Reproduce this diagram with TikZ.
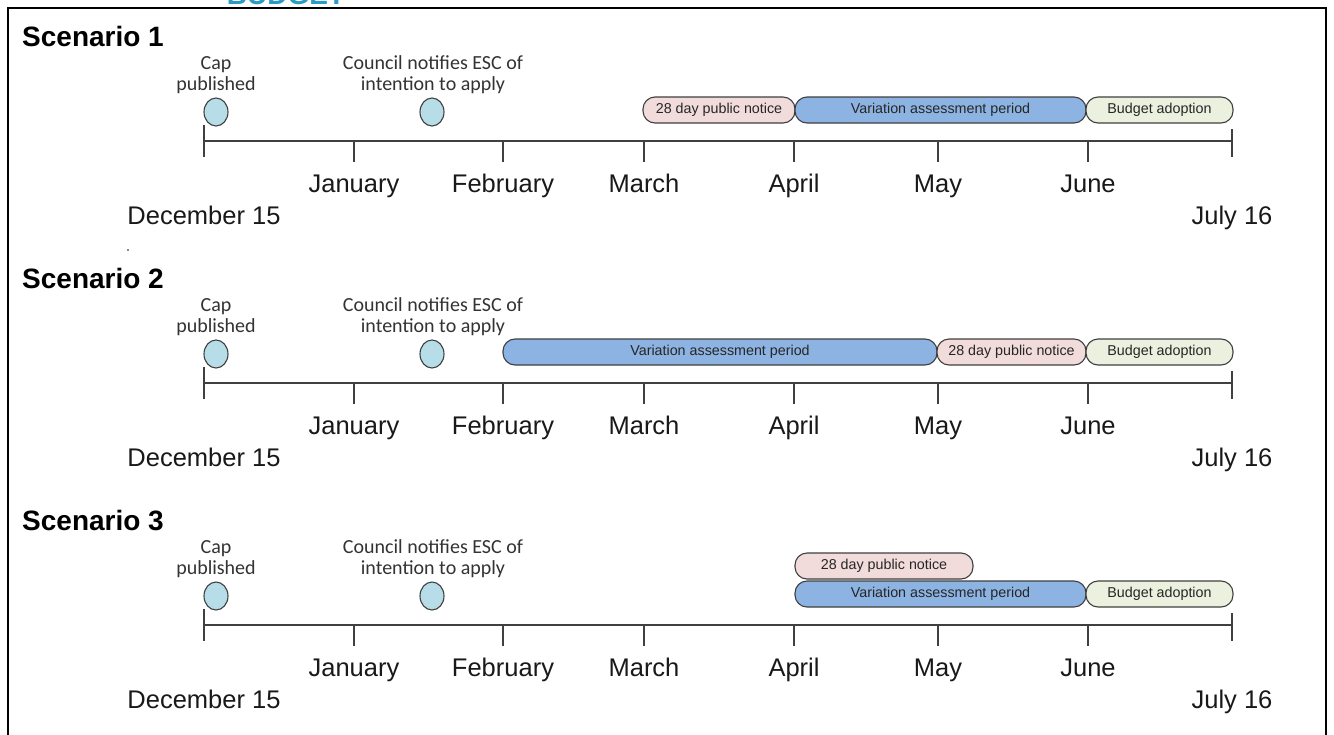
\documentclass[tikz,border=0pt]{standalone}
\usepackage{fontspec}
\setmainfont{Liberation Sans}
\newfontfamily\calib{Carlito}
\usetikzlibrary{shapes.geometric}
\definecolor{capfill}{HTML}{B7DDE8}
\definecolor{pinkfill}{HTML}{F2DCDB}
\definecolor{bluefill}{HTML}{8DB3E2}
\definecolor{greenfill}{HTML}{EBF1DE}
\definecolor{darkline}{HTML}{3F3F3F}
\definecolor{hdrblue}{HTML}{2B9BC4}
\begin{document}
\begin{tikzpicture}[x=1pt,y=-1pt,
  lbl/.style={font=\fontsize{25.5}{28}\selectfont, inner sep=0, anchor=base, text=black!90},
  ttl/.style={font=\bfseries\fontsize{28}{32}\selectfont, inner sep=0, anchor=base west},
  evt/.style={font=\calib\fontsize{20}{21.5}\selectfont, align=center, inner sep=0, anchor=south, text=black!80},
  dotnode/.style={ellipse, draw=darkline, fill=capfill, minimum width=24, minimum height=28, inner sep=0, line width=1.1},
  period/.style={rectangle, rounded corners=12, draw=darkline, line width=1.1, minimum height=26, inner sep=0, font=\fontsize{14.3}{16}\selectfont, text=black!85},
  axisline/.style={draw=black!75, line width=1.1}]
\useasboundingbox (0,0) rectangle (1334,734);
\fill[white] (0,0) rectangle (1334,734);
% header fragment and frame
\node[font=\bfseries\fontsize{28}{30}\selectfont, text=hdrblue, anchor=base, inner sep=0] (hdr) at (286,4) {BUDGET};
\draw[line width=2.6] (8,745) -- (8,8) -- (1326,8) -- (1326,745);
\fill[black!60] (128,250) circle (1.1);
% common parts of the three scenarios
\foreach \s/\o in {1/0,2/242,3/484}{
  \node[ttl] (t\s) at (22,46+\o) {Scenario \s};
  \node[evt] (capt\s) at (216,94+\o) {Cap\\published};
  \node[dotnode] (cap\s) at (216,112+\o) {};
  \node[evt] (esct\s) at (433,94+\o) {Council notifies ESC of\\intention to apply};
  \node[dotnode] (esc\s) at (432,112+\o) {};
  \coordinate (a\s0) at (204,141+\o);
  \coordinate (a\s7) at (1232,141+\o);
  \draw[axisline] (a\s0) -- (a\s7);
  \draw[axisline] ([yshift=16]a\s0) -- ([yshift=-16]a\s0);
  \draw[axisline] ([yshift=12]a\s7) -- ([yshift=-16]a\s7);
  \foreach \m/\x/\n in {1/354/January,2/503/February,3/644/March,4/794/April,5/938/May,6/1088/June}{
    \coordinate (a\s\m) at (\x,141+\o);
    \draw[axisline] (a\s\m) -- ([yshift=-21]a\s\m);
    \node[lbl] (m\s\m) at (\x,192+\o) {\n};
  }
  \node[lbl] (dec\s) at (204,224+\o) {December 15};
  \node[lbl] (jul\s) at (1232,224+\o) {July 16};
}
% Scenario 1 periods
\node[period, fill=pinkfill, minimum width=152] (p1a) at (719,110) {28 day public notice};
\node[period, fill=bluefill, minimum width=291] (p1b) at (940.5,110) {Variation assessment period};
\node[period, fill=greenfill, minimum width=147] (p1c) at (1159.5,110) {Budget adoption};
% Scenario 2 periods
\node[period, fill=bluefill, minimum width=434] (p2a) at (720,352) {Variation assessment period};
\node[period, fill=pinkfill, minimum width=149] (p2b) at (1011.5,352) {28 day public notice};
\node[period, fill=greenfill, minimum width=147] (p2c) at (1159.5,352) {Budget adoption};
% Scenario 3 periods
\node[period, fill=pinkfill, minimum width=178] (p3a) at (884,566) {28 day public notice};
\node[period, fill=bluefill, minimum width=291] (p3b) at (940.5,594) {Variation assessment period};
\node[period, fill=greenfill, minimum width=147] (p3c) at (1159.5,594) {Budget adoption};
\end{tikzpicture}
\end{document}
